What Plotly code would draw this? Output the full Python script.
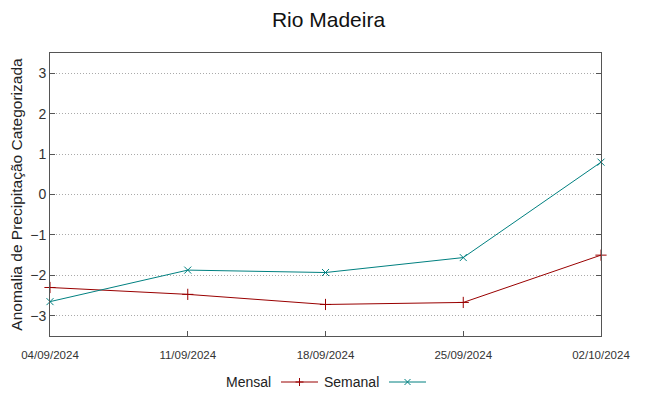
import plotly.graph_objects as go

dates = ["04/09/2024", "11/09/2024", "18/09/2024", "25/09/2024", "02/10/2024"]
mensal = [-2.30, -2.47, -2.72, -2.67, -1.50]
semanal = [-2.65, -1.87, -1.93, -1.56, 0.80]
y_ticks = [-3, -2, -1, 0, 1, 2, 3]

RED = "#990000"
TEAL = "#008080"
OFF = 8  # page body margin
W, H = 649 - OFF, 396 - OFF
L, R, T, B = 50 - OFF, 48, 53 - OFF, 60
pw, ph = W - L - R, H - T - B

def px2paper(x, y):
    # x, y in screenshot pixels
    return (x - OFF - L) / pw, (H - B - (y - OFF)) / ph

fig = go.Figure()
fig.add_trace(go.Scatter(x=dates, y=mensal, mode="lines+markers", name="Mensal",
                         line=dict(color=RED, width=1),
                         marker=dict(symbol="cross-thin", size=8, line=dict(color=RED, width=1)),
                         showlegend=False, cliponaxis=False))
fig.add_trace(go.Scatter(x=dates, y=semanal, mode="lines+markers", name="Semanal",
                         line=dict(color=TEAL, width=1),
                         marker=dict(symbol="x-thin", size=7, line=dict(color=TEAL, width=1)),
                         showlegend=False, cliponaxis=False))

# custom legend (text left, sample right, as in reference)
ly = 382
shapes = []
annotations = []
for label, tx, x0, x1, col, kind in [("Mensal", 273, 281, 318, RED, "+"),
                                     ("Semanal", 381, 389, 426, TEAL, "x")]:
    a0, b0 = px2paper(x0, ly)
    a1, _ = px2paper(x1, ly)
    shapes.append(dict(type="line", xref="paper", yref="paper", x0=a0, x1=a1, y0=b0, y1=b0,
                       line=dict(color=col, width=1)))
    ax, ay = px2paper(tx, ly)
    annotations.append(dict(text=label, xref="paper", yref="paper", x=ax, y=ay,
                            xanchor="right", yanchor="middle", showarrow=False,
                            font=dict(size=14, color="#222")))
    cx = (x0 + x1) / 2
    s = 4 if kind == "+" else 3
    if kind == "+":
        segs = [((cx - s, ly), (cx + s, ly)), ((cx, ly - s), (cx, ly + s))]
    else:
        segs = [((cx - s, ly - s), (cx + s, ly + s)), ((cx - s, ly + s), (cx + s, ly - s))]
    for (p0, p1) in segs:
        q0 = px2paper(*p0)
        q1 = px2paper(*p1)
        shapes.append(dict(type="line", xref="paper", yref="paper",
                           x0=q0[0], y0=q0[1], x1=q1[0], y1=q1[1],
                           line=dict(color=col, width=1)))

fig.update_layout(
    width=W, height=H,
    margin=dict(l=L, r=R, t=T, b=B, autoexpand=False),
    paper_bgcolor="white", plot_bgcolor="white",
    font=dict(family="Liberation Sans, Arial, sans-serif", color="#222"),
    title=dict(text="Rio Madeira", x=0.5, xanchor="center", y=1 - (20 - OFF) / H,
               yanchor="middle", font=dict(size=21, color="#111")),
    xaxis=dict(type="category", categoryorder="array", categoryarray=dates,
               range=[0, 4], showgrid=False, zeroline=False, automargin=False,
               showline=True, linecolor="#555", linewidth=1, mirror=True,
               ticks="inside", ticklen=5, tickcolor="#555", ticklabelstandoff=8,
               tickfont=dict(size=11.5, color="#333")),
    yaxis=dict(range=[-3.5, 3.5], tickvals=y_ticks, showgrid=True, automargin=False,
               gridcolor="#aaa", griddash="1px,2px", gridwidth=1, zeroline=False,
               showline=True, linecolor="#555", linewidth=1, mirror="allticks",
               ticks="inside", ticklen=5, tickcolor="#555",
               tickfont=dict(size=14, color="#333"),
               title=dict(text="Anomalia de Precipitação Categorizada", standoff=6,
                          font=dict(size=15.5, color="#222"))),
    shapes=shapes, annotations=annotations,
    showlegend=False,
)

fig.write_html("out.html")
